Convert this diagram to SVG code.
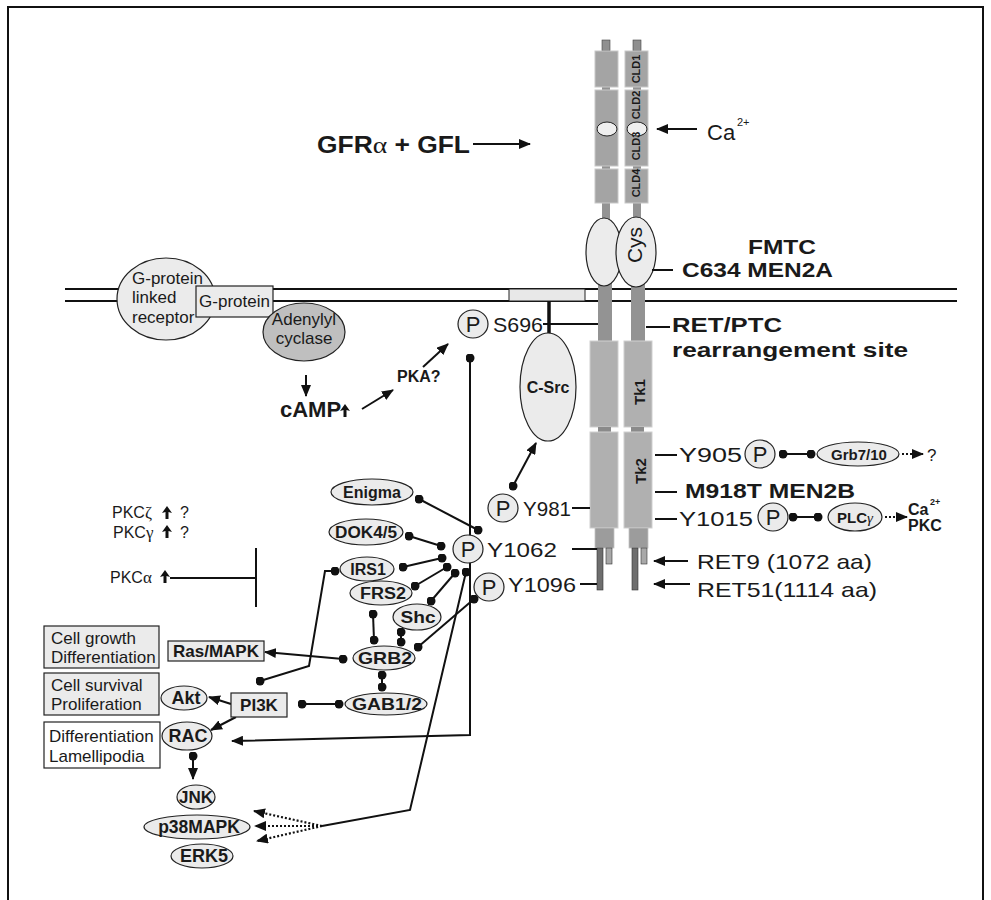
<svg xmlns="http://www.w3.org/2000/svg" width="991" height="900" viewBox="0 0 991 900">
<defs>
<style>
text{font-family:"Liberation Sans",Arial,sans-serif;fill:#1a1a1a}
.b{font-weight:bold}
.g{font-family:"Liberation Serif","Times New Roman",serif;font-weight:normal}
.node{fill:#ebebeb;stroke:#222;stroke-width:1.2}
.box{fill:#ebebeb;stroke:#222;stroke-width:1.2}
.ln{fill:none;stroke:#111;stroke-width:2}
.dt{fill:none;stroke:#111;stroke-width:2.2;stroke-dasharray:2 2}
.mem{stroke:#111;stroke-width:2}
.cld{fill:#a4a4a4;stroke:#c8c8c8;stroke-width:1}
.tk{fill:#b0b0b0;stroke:#cfcfcf;stroke-width:1}
.stalk{fill:#939393}
</style>
<marker id="ah" viewBox="0 0 12 10" refX="11" refY="5" markerWidth="12" markerHeight="10" markerUnits="userSpaceOnUse" orient="auto">
<path d="M0,0 L12,5 L0,10 z" fill="#111"/>
</marker>
<marker id="dot" viewBox="0 0 10 10" refX="5" refY="5" markerWidth="9" markerHeight="9" markerUnits="userSpaceOnUse">
<circle cx="5" cy="5" r="5" fill="#111"/>
</marker>
<path id="up" d="M0,0 L5,7 L1.5,6 L1.5,13 L-1.5,13 L-1.5,6 L-5,7 z" fill="#111"/>
</defs>
<rect x="8" y="7" width="975" height="905" fill="#fff" stroke="#111" stroke-width="2"/>

<!-- membrane -->
<g id="membrane">
<line class="mem" x1="65" y1="289" x2="957" y2="289"/>
<line class="mem" x1="65" y1="301" x2="957" y2="301"/>
<rect x="509" y="289" width="76" height="12" fill="#e8e8e8" stroke="#222" stroke-width="1"/>
</g>

<!-- RET receptor -->
<g id="ret-receptor">
<rect x="602" y="40" width="8" height="11" fill="#8f8f8f" stroke="#444" stroke-width="0.6"/>
<rect x="633" y="40" width="8" height="11" fill="#8f8f8f" stroke="#444" stroke-width="0.6"/>
<rect class="stalk" x="602" y="51" width="8" height="170"/>
<rect class="stalk" x="633" y="51" width="8" height="170"/>
<rect class="cld" x="595" y="51" width="23" height="36"/>
<rect class="cld" x="595" y="90" width="23" height="39"/>
<rect class="cld" x="595" y="129" width="23" height="37"/>
<rect class="cld" x="595" y="169" width="23" height="34"/>
<rect class="cld" x="625" y="51" width="23" height="36"/>
<rect class="cld" x="625" y="90" width="23" height="39"/>
<rect class="cld" x="625" y="129" width="23" height="37"/>
<rect class="cld" x="625" y="169" width="23" height="34"/>
<ellipse cx="607" cy="129" rx="10" ry="7" fill="#eeeeee" stroke="#222" stroke-width="1"/>
<ellipse cx="637" cy="129" rx="10" ry="7" fill="#eeeeee" stroke="#222" stroke-width="1"/>
<text class="b" font-size="11" text-anchor="middle" transform="translate(640,69) rotate(-90)">CLD1</text>
<text class="b" font-size="11" text-anchor="middle" transform="translate(640,105) rotate(-90)">CLD2</text>
<text class="b" font-size="11" text-anchor="middle" transform="translate(640,146) rotate(-90)">CLD3</text>
<text class="b" font-size="11" text-anchor="middle" transform="translate(640,183) rotate(-90)">CLD4</text>
<rect class="stalk" x="598" y="270" width="14" height="72"/>
<rect class="stalk" x="631" y="270" width="14" height="72"/>
<ellipse cx="604" cy="252" rx="18" ry="34" fill="#ececec" stroke="#222" stroke-width="1.2"/>
<ellipse cx="636" cy="252" rx="20" ry="35" fill="#ececec" stroke="#222" stroke-width="1.2"/>
<text font-size="21" text-anchor="middle" transform="translate(642,245) rotate(-90)">Cys</text>
<rect class="tk" x="590" y="341" width="28" height="86"/>
<rect class="tk" x="624" y="341" width="28" height="86"/>
<rect x="598" y="427" width="13" height="5" fill="#8a8a8a"/>
<rect x="631" y="427" width="13" height="5" fill="#8a8a8a"/>
<rect class="tk" x="590" y="432" width="28" height="96"/>
<rect class="tk" x="624" y="432" width="28" height="96"/>
<text class="b" font-size="15" text-anchor="middle" transform="translate(645,392) rotate(-90)">Tk1</text>
<text class="b" font-size="15" text-anchor="middle" transform="translate(646,471) rotate(-90)">Tk2</text>
<rect x="595" y="528" width="19" height="20" fill="#9c9c9c" stroke="#c4c4c4" stroke-width="0.8"/>
<rect x="629" y="528" width="19" height="20" fill="#9c9c9c" stroke="#c4c4c4" stroke-width="0.8"/>
<rect x="597" y="548" width="6" height="42" fill="#6e6e6e" stroke="#333" stroke-width="0.6"/>
<rect x="606" y="548" width="6" height="16" fill="#a8a8a8" stroke="#333" stroke-width="0.6"/>
<rect x="632" y="548" width="6" height="42" fill="#6e6e6e" stroke="#333" stroke-width="0.6"/>
<rect x="641" y="548" width="6" height="16" fill="#a8a8a8" stroke="#333" stroke-width="0.6"/>
</g>

<!-- connectors -->
<g id="connectors">
<line class="ln" x1="473" y1="144" x2="530" y2="144" marker-end="url(#ah)"/>
<line class="ln" x1="697" y1="129" x2="657" y2="129" marker-end="url(#ah)"/>
<line class="ln" x1="652" y1="270" x2="673" y2="270"/>
<line class="ln" x1="646" y1="327" x2="670" y2="327"/>
<line class="ln" x1="543" y1="324" x2="598" y2="324"/>
<line x1="549" y1="301" x2="549" y2="334" stroke="#111" stroke-width="3.5"/>
<line class="ln" x1="572" y1="508" x2="590" y2="508"/>
<line class="ln" x1="572" y1="549" x2="597" y2="549"/>
<line class="ln" x1="580" y1="584" x2="597" y2="584"/>
<line class="ln" x1="655" y1="455" x2="677" y2="455"/>
<line class="ln" x1="655" y1="492" x2="677" y2="492"/>
<line class="ln" x1="655" y1="519" x2="677" y2="519"/>
<line class="ln" x1="688" y1="561" x2="654" y2="561" marker-end="url(#ah)"/>
<line class="ln" x1="690" y1="584" x2="654" y2="584" marker-end="url(#ah)"/>
<line class="ln" x1="783" y1="454" x2="811" y2="454" marker-start="url(#dot)" marker-end="url(#dot)"/>
<line class="dt" x1="902" y1="454" x2="923" y2="454" marker-end="url(#ah)"/>
<line class="ln" x1="793" y1="517" x2="818" y2="517" marker-start="url(#dot)" marker-end="url(#dot)"/>
<line class="dt" x1="885" y1="517" x2="907" y2="517" marker-end="url(#ah)"/>
<line class="ln" x1="306" y1="375" x2="306" y2="396" marker-end="url(#ah)"/>
<line class="ln" x1="362" y1="409" x2="393" y2="390" marker-end="url(#ah)"/>
<line class="ln" x1="423" y1="367" x2="448" y2="344" marker-end="url(#ah)"/>
<line class="ln" x1="513" y1="486" x2="536" y2="443" marker-start="url(#dot)" marker-end="url(#ah)"/>
<polyline class="ln" points="470,358 470,735 232,741" marker-start="url(#dot)" marker-end="url(#ah)"/>
<line class="ln" x1="419" y1="499" x2="478" y2="530" marker-start="url(#dot)" marker-end="url(#dot)"/>
<line class="ln" x1="409" y1="536" x2="441" y2="546" marker-start="url(#dot)" marker-end="url(#dot)"/>
<line class="ln" x1="403" y1="567" x2="442" y2="558" marker-start="url(#dot)" marker-end="url(#dot)"/>
<line class="ln" x1="415" y1="586" x2="447" y2="567" marker-start="url(#dot)" marker-end="url(#dot)"/>
<line class="ln" x1="431" y1="601" x2="455" y2="573" marker-start="url(#dot)" marker-end="url(#dot)"/>
<line class="ln" x1="474" y1="599" x2="418" y2="647" marker-start="url(#dot)" marker-end="url(#dot)"/>
<polyline class="ln" points="335,571 325,571 309,666 260,681" marker-start="url(#dot)" marker-end="url(#dot)"/>
<line class="ln" x1="343" y1="659" x2="265" y2="652" marker-start="url(#dot)" marker-end="url(#ah)"/>
<line class="ln" x1="373" y1="614" x2="374" y2="640" marker-start="url(#dot)" marker-end="url(#dot)"/>
<line class="ln" x1="401" y1="632" x2="401" y2="642" marker-start="url(#dot)" marker-end="url(#dot)"/>
<line class="ln" x1="382" y1="675" x2="382" y2="687" marker-start="url(#dot)" marker-end="url(#dot)"/>
<line class="ln" x1="339" y1="704" x2="302" y2="704" marker-start="url(#dot)" marker-end="url(#dot)"/>
<line class="ln" x1="231" y1="704" x2="209" y2="697" marker-end="url(#ah)"/>
<line class="ln" x1="236" y1="717" x2="211" y2="730" marker-end="url(#ah)"/>
<line class="ln" x1="193" y1="756" x2="193" y2="779" marker-start="url(#dot)" marker-end="url(#ah)"/>
<polyline class="ln" points="466,572 410,810 322,826" marker-start="url(#dot)"/>
<line class="dt" x1="322" y1="826" x2="254" y2="811" marker-end="url(#ah)"/>
<line class="dt" x1="322" y1="826" x2="255" y2="826" marker-end="url(#ah)"/>
<line class="dt" x1="322" y1="826" x2="257" y2="841" marker-end="url(#ah)"/>
<line class="ln" x1="170" y1="578" x2="256" y2="578"/>
<line class="ln" x1="256" y1="548" x2="256" y2="607"/>
</g>

<!-- G-protein system -->
<g id="gpcr">
<ellipse class="node" cx="166" cy="299" rx="49" ry="41"/>
<text font-size="17" x="132" y="284">G-protein</text>
<text font-size="17" x="132" y="303">linked</text>
<text font-size="17" x="132" y="323">receptor</text>
</g>
<g id="g-protein">
<rect class="box" x="196" y="286" width="77" height="31"/>
<text font-size="17" x="234.5" y="307" text-anchor="middle">G-protein</text>
</g>
<g id="adenylyl-cyclase">
<ellipse cx="304" cy="332" rx="41" ry="29" fill="#bfbfbf" stroke="#222" stroke-width="1.2"/>
<text font-size="17" x="304" y="325" text-anchor="middle">Adenylyl</text>
<text font-size="17" x="304" y="344" text-anchor="middle">cyclase</text>
</g>
<g id="camp">
<text class="b" font-size="22" x="280" y="417">cAMP</text>
<use href="#up" x="345" y="404"/>
</g>
<g id="pka"><text class="b" font-size="16" x="397" y="382">PKA?</text></g>

<!-- top labels -->
<g id="gfl"><text class="b" font-size="23" x="317" y="153" textLength="153" lengthAdjust="spacingAndGlyphs">GFR<tspan class="g" font-size="24">α</tspan> + GFL</text></g>
<g id="ca"><text font-size="22" x="707" y="140">Ca</text><text font-size="11" x="737" y="126">2+</text></g>
<g id="fmtc"><text class="b" font-size="19.5" x="748" y="254" textLength="68" lengthAdjust="spacingAndGlyphs">FMTC</text></g>
<g id="c634"><text class="b" font-size="19.5" x="682" y="277" textLength="151" lengthAdjust="spacingAndGlyphs">C634 MEN2A</text></g>
<g id="retptc">
<text class="b" font-size="21" x="672" y="332" textLength="110" lengthAdjust="spacingAndGlyphs">RET/PTC</text>
<text class="b" font-size="21" x="672" y="357" textLength="236" lengthAdjust="spacingAndGlyphs">rearrangement site</text>
</g>

<!-- phosphosites -->
<g id="s696">
<ellipse class="node" cx="473" cy="324" rx="15" ry="14"/>
<text font-size="22" x="473" y="332" text-anchor="middle">P</text>
<text font-size="21" x="493" y="332" textLength="50" lengthAdjust="spacingAndGlyphs">S696</text>
</g>
<g id="c-src">
<ellipse class="node" cx="548" cy="387" rx="28" ry="54"/>
<text class="b" font-size="16" x="548" y="393" text-anchor="middle">C-Src</text>
</g>
<g id="y981">
<ellipse class="node" cx="503" cy="508" rx="15" ry="14"/>
<text font-size="22" x="503" y="516" text-anchor="middle">P</text>
<text font-size="21" x="523" y="516" textLength="48" lengthAdjust="spacingAndGlyphs">Y981</text>
</g>
<g id="y1062">
<ellipse class="node" cx="468" cy="549" rx="15" ry="14"/>
<text font-size="22" x="468" y="557" text-anchor="middle">P</text>
<text font-size="21" x="487" y="557" textLength="70" lengthAdjust="spacingAndGlyphs">Y1062</text>
</g>
<g id="y1096">
<ellipse class="node" cx="489" cy="587" rx="15" ry="14"/>
<text font-size="22" x="489" y="595" text-anchor="middle">P</text>
<text font-size="21" x="508" y="592" textLength="68" lengthAdjust="spacingAndGlyphs">Y1096</text>
</g>
<g id="y905">
<text font-size="20" x="679" y="462" textLength="63" lengthAdjust="spacingAndGlyphs">Y905</text>
<ellipse class="node" cx="760" cy="454" rx="15" ry="14"/>
<text font-size="22" x="760" y="462" text-anchor="middle">P</text>
</g>
<g id="grb7"><ellipse class="node" cx="858" cy="454" rx="41" ry="12"/><text class="b" font-size="15" x="859" y="460" text-anchor="middle">Grb7/10</text></g>
<g id="q"><text font-size="17" x="927" y="461">?</text></g>
<g id="m918t"><text class="b" font-size="19.5" x="685" y="498" textLength="170" lengthAdjust="spacingAndGlyphs">M918T MEN2B</text></g>
<g id="y1015">
<text font-size="20" x="679" y="526" textLength="74" lengthAdjust="spacingAndGlyphs">Y1015</text>
<ellipse class="node" cx="773" cy="517" rx="15" ry="14"/>
<text font-size="22" x="773" y="525" text-anchor="middle">P</text>
</g>
<g id="plcg"><ellipse class="node" cx="855" cy="517" rx="27" ry="14"/><text class="b" font-size="15" x="855" y="523" text-anchor="middle">PLC<tspan class="g" font-style="italic">γ</tspan></text></g>
<g id="ca-pkc">
<text class="b" font-size="16" x="908" y="515">Ca</text><text class="b" font-size="9" x="930" y="505">2+</text>
<text class="b" font-size="16" x="908" y="531">PKC</text>
</g>
<g id="ret9"><text font-size="21" x="697" y="569" textLength="175" lengthAdjust="spacingAndGlyphs">RET9 (1072 aa)</text></g>
<g id="ret51"><text font-size="21" x="697" y="597" textLength="180" lengthAdjust="spacingAndGlyphs">RET51(1114 aa)</text></g>

<!-- PKC -->
<g id="pkc">
<text font-size="16" x="112" y="518">PKC<tspan class="g" font-size="17">ζ</tspan></text>
<use href="#up" x="167" y="506"/>
<text font-size="16" x="180" y="518">?</text>
<text font-size="16" x="113" y="538">PKC<tspan class="g" font-size="17">γ</tspan></text>
<use href="#up" x="167" y="525"/>
<text font-size="16" x="180" y="538">?</text>
<text font-size="16" x="110" y="583">PKC<tspan class="g" font-size="17">α</tspan></text>
<use href="#up" x="165" y="570"/>
</g>

<!-- adaptor nodes -->
<g id="enigma"><ellipse class="node" cx="372" cy="492" rx="41" ry="13"/><text class="b" font-size="16" x="372" y="498" text-anchor="middle">Enigma</text></g>
<g id="dok"><ellipse class="node" cx="366" cy="532" rx="37" ry="13"/><text class="b" font-size="16" x="366" y="538" text-anchor="middle" textLength="62" lengthAdjust="spacingAndGlyphs">DOK4/5</text></g>
<g id="irs1"><ellipse class="node" cx="367" cy="569" rx="27" ry="12"/><text class="b" font-size="16" x="368" y="575" text-anchor="middle">IRS1</text></g>
<g id="frs2"><ellipse class="node" cx="381" cy="593" rx="31" ry="12"/><text class="b" font-size="16" x="383" y="599" text-anchor="middle" textLength="46" lengthAdjust="spacingAndGlyphs">FRS2</text></g>
<g id="shc"><ellipse class="node" cx="417" cy="617" rx="24" ry="13"/><text class="b" font-size="17" x="418" y="623" text-anchor="middle" textLength="35" lengthAdjust="spacingAndGlyphs">Shc</text></g>
<g id="grb2"><ellipse class="node" cx="384" cy="658" rx="31" ry="12"/><text class="b" font-size="17" x="385" y="664" text-anchor="middle" textLength="54" lengthAdjust="spacingAndGlyphs">GRB2</text></g>
<g id="gab"><ellipse class="node" cx="386" cy="704" rx="41" ry="11"/><text class="b" font-size="17" x="387" y="710" text-anchor="middle" textLength="70" lengthAdjust="spacingAndGlyphs">GAB1/2</text></g>
<g id="ras"><rect class="box" x="168" y="641" width="96" height="20"/><text class="b" font-size="17" x="216" y="657" text-anchor="middle">Ras/MAPK</text></g>
<g id="pi3k"><rect class="box" x="231" y="693" width="56" height="24"/><text class="b" font-size="17" x="259" y="711" text-anchor="middle">PI3K</text></g>
<g id="akt"><ellipse class="node" cx="184" cy="698" rx="23" ry="12"/><text class="b" font-size="18" x="186" y="704" text-anchor="middle">Akt</text></g>
<g id="rac"><ellipse class="node" cx="187" cy="736" rx="25" ry="14"/><text class="b" font-size="18" x="188" y="742" text-anchor="middle">RAC</text></g>
<g id="jnk"><ellipse class="node" cx="196" cy="797" rx="19" ry="12"/><text class="b" font-size="17" x="196" y="803" text-anchor="middle">JNK</text></g>
<g id="p38"><ellipse class="node" cx="197" cy="827" rx="53" ry="12"/><text class="b" font-size="17.5" x="199" y="833" text-anchor="middle">p38MAPK</text></g>
<g id="erk5"><ellipse class="node" cx="202" cy="856" rx="31" ry="12"/><text class="b" font-size="18" x="204" y="862" text-anchor="middle">ERK5</text></g>

<!-- outcome boxes -->
<g id="out-growth"><rect class="box" x="44" y="626" width="115" height="42"/><text font-size="17" x="51" y="644">Cell growth</text><text font-size="17" x="51" y="663">Differentiation</text></g>
<g id="out-survival"><rect class="box" x="44" y="673" width="115" height="42"/><text font-size="17" x="51" y="691">Cell survival</text><text font-size="17" x="51" y="710">Proliferation</text></g>
<g id="out-lamelli"><rect x="44" y="722" width="116" height="46" fill="#fff" stroke="#222" stroke-width="1.2"/><text font-size="17" x="49" y="742">Differentiation</text><text font-size="17" x="49" y="762">Lamellipodia</text></g>
</svg>
